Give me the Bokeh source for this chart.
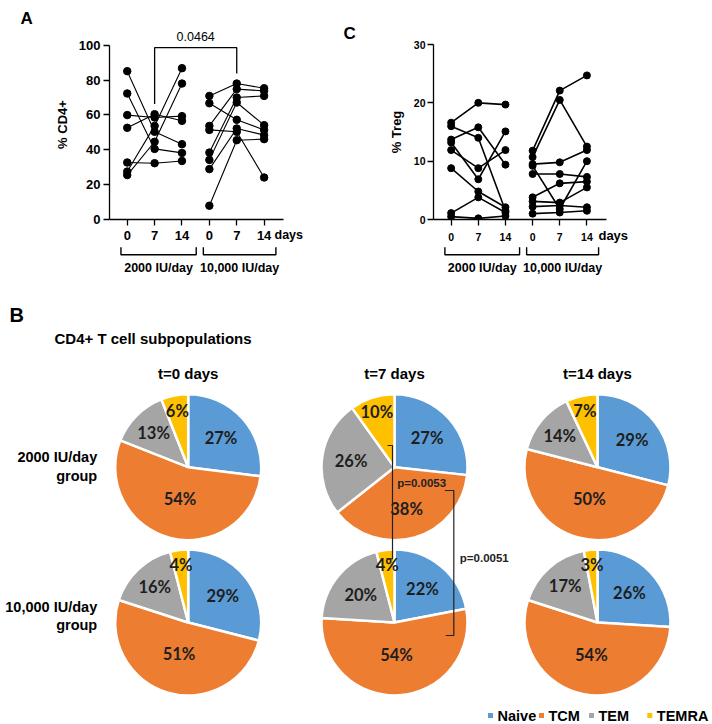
import numpy as np
from bokeh.plotting import figure
from bokeh.models import Range1d, FixedTicker, LinearAxis
from bokeh.layouts import column, row
from bokeh.embed import file_html
from bokeh.resources import INLINE
from bokeh.core.properties import value

SANS = "Liberation Sans"
PIE_FONT = "Lato"

# ---------------- data ----------------
day_ticks = ["0", "7", "14", "0", "7", "14"]
dose_groups = ["2000 IU/day", "10,000 IU/day"]

# Panel A: % CD4+ per subject at day 0 / 7 / 14
cd4_2000_day0 = [85.1, 72.3, 59.9, 52.6, 32.7, 27.5, 25.5]
cd4_2000_day7 = [50.3, 40.5, 58.5, 60.4, 32.3, 53.7, 44.6]
cd4_2000_day14 = [43.2, 38.2, 59.3, 56.6, 33.6, 86.8, 78.0]
cd4_10000_day0 = [70.9, 66.7, 53.7, 51.4, 38.4, 34.2, 28.9, 7.9]
cd4_10000_day7 = [78.0, 57.2, 74.8, 50.3, 70.0, 67.1, 52.2, 45.5]
cd4_10000_day14 = [75.3, 51.4, 73.8, 24.1, 70.9, 54.1, 48.4, 46.1]
cd4_p_value = "0.0464"

# Panel C: % Treg per subject at day 0 / 7 / 14
treg_2000_day0 = [16.6, 16.0, 13.7, 13.2, 11.9, 8.8, 1.1, 0.5]
treg_2000_day7 = [20.0, 14.0, 15.8, 6.9, 8.8, 4.8, 3.8, 0.2]
treg_2000_day14 = [19.7, 1.5, 9.4, 15.1, 11.9, 2.1, 1.2, 0.6]
treg_10000_day0 = [11.8, 10.7, 9.5, 9.2, 7.8, 3.8, 3.1, 2.2, 1.0]
treg_10000_day7 = [22.1, 20.5, 9.8, 1.8, 7.8, 6.2, 2.9, 2.4, 1.2]
treg_10000_day14 = [24.7, 12.5, 11.9, 10.0, 7.3, 6.5, 5.5, 2.1, 1.5]

# Panel B: CD4+ T cell subpopulations (%)
subsets = ["Naive", "TCM", "TEM", "TEMRA"]
subset_colors = ["#5B9BD5", "#ED7D31", "#A5A5A5", "#FFC000"]
timepoints = ["t=0 days", "t=7 days", "t=14 days"]
pie_2000_t0 = [27, 54, 13, 6]
pie_2000_t7 = [27, 38, 26, 10]
pie_2000_t14 = [29, 50, 14, 7]
pie_10000_t0 = [29, 51, 16, 4]
pie_10000_t7 = [22, 54, 20, 4]
pie_10000_t14 = [26, 54, 17, 3]
pie_group_labels = [("2000 IU/day", "group"), ("10,000 IU/day", "group")]
p_values_b = ["p=0.0053", "p=0.0051"]


# ---------------- helpers ----------------
def clean(p):
    p.xgrid.visible = False
    p.ygrid.visible = False
    p.outline_line_color = None
    p.background_fill_color = "white"
    p.border_fill_color = "white"


def style_axes(p, tick_size, label_size, x_standoff, y_standoff, ylabel_standoff):
    for ax in (p.xaxis[0], p.yaxis[0]):
        ax.axis_line_color = "black"
        ax.axis_line_width = 1.3
        ax.major_tick_line_color = "black"
        ax.major_tick_line_width = 1.3
        ax.major_tick_out = 6
        ax.major_tick_in = 0
        ax.minor_tick_out = 0
        ax.minor_tick_in = 0
        ax.major_label_text_font = SANS
        ax.major_label_text_font_style = "bold"
        ax.major_label_text_font_size = tick_size
        ax.major_label_text_color = "black"
        ax.axis_label_text_font = SANS
        ax.axis_label_text_font_style = "bold"
        ax.axis_label_text_font_size = label_size
        ax.axis_label_text_color = "black"
    p.xaxis[0].major_label_standoff = x_standoff
    p.yaxis[0].major_label_standoff = y_standoff
    p.yaxis[0].axis_label_standoff = ylabel_standoff


def style_letter(p, offset):
    p.title.align = "left"
    p.title.offset = offset
    p.title.standoff = 0
    p.title.vertical_align = "top"
    p.title.text_font = SANS
    p.title.text_font_size = "17px"
    p.title.text_font_style = "bold"
    p.title.text_color = "black"


def add_days_axis(p, tick, size, standoff):
    ax = LinearAxis(ticker=FixedTicker(ticks=[tick]), major_label_overrides={tick: "days"})
    ax.axis_line_color = None
    ax.major_tick_line_color = None
    ax.minor_tick_line_color = None
    ax.major_tick_out = 0
    ax.major_tick_in = 0
    ax.major_label_standoff = standoff
    ax.major_label_text_font = SANS
    ax.major_label_text_font_style = "bold"
    ax.major_label_text_font_size = size
    ax.major_label_text_color = "black"
    p.add_layout(ax, "below")


def draw_pairs(p, groups, lw, size):
    for gi, (d0, d7, d14) in enumerate(groups):
        base = 3 * gi
        xs = [[base, base + 1, base + 2] for _ in d0]
        ys = [[a, b, c] for a, b, c in zip(d0, d7, d14)]
        p.multi_line(xs, ys, line_color="black", line_width=lw)
        px = [base] * len(d0) + [base + 1] * len(d7) + [base + 2] * len(d14)
        py = list(d0) + list(d7) + list(d14)
        p.scatter(px, py, size=size, fill_color="black", line_color="black")


def bracket_fig(width, bl, br, x_range):
    b = figure(width=width, height=30, x_range=x_range, y_range=Range1d(0, 30),
               x_axis_location=None, y_axis_location=None, output_backend="svg",
               toolbar_location=None, min_border_left=bl, min_border_right=br,
               min_border_top=0, min_border_bottom=0)
    clean(b)
    spans = [(-0.23, 2.52), (2.78, 5.43)]
    for (a, c), lab in zip(spans, dose_groups):
        b.line([a, a, c, c], [29.3, 21.7, 21.7, 29.3], line_color="black", line_width=1.4)
        b.text(x=[(a + c) / 2], y=[9], text=[lab], text_font=value(SANS),
               text_font_style="bold", text_font_size="12.5px", text_align="center",
               text_baseline="middle", text_color="black")
    return b


# ---------------- Panel A ----------------
pa = figure(width=330, height=246, x_range=Range1d(-0.648, 6.0), y_range=Range1d(0, 109),
            output_backend="svg", toolbar_location=None, title="A",
            min_border_left=109, min_border_right=39, min_border_top=29, min_border_bottom=27)
clean(pa)
style_letter(pa, -89)
pa.yaxis.bounds = (0, 100)
pa.yaxis.ticker = FixedTicker(ticks=[0, 20, 40, 60, 80, 100])
pa.yaxis.axis_label = "% CD4+"
pa.xaxis.bounds = (-0.648, 5.72)
pa.xaxis.ticker = FixedTicker(ticks=[0, 1, 2, 3, 4, 5])
pa.xaxis.major_label_overrides = {i: s for i, s in enumerate(day_ticks)}
style_axes(pa, "13px", "13px", 5, 3, 6)
add_days_axis(pa, 5.9, "12.5px", -15)
draw_pairs(pa, [(cd4_2000_day0, cd4_2000_day7, cd4_2000_day14),
                (cd4_10000_day0, cd4_10000_day7, cd4_10000_day14)], 1.1, 7.5)
pa.line([1, 1, 4, 4], [66.3, 98.6, 98.6, 83.7], line_color="black", line_width=1.3)
pa.text(x=[2.5], y=[104.9], text=[cd4_p_value], text_font=value(SANS), text_font_size="12.5px",
        text_align="center", text_baseline="middle", text_color="black")
pab = bracket_fig(330, 109, 39, pa.x_range)

# ---------------- Panel C ----------------
pc = figure(width=382, height=246, x_range=Range1d(-0.65, 6.2), y_range=Range1d(0, 30),
            output_backend="svg", toolbar_location=None, title="C",
            min_border_left=103, min_border_right=93, min_border_top=44, min_border_bottom=27)
clean(pc)
style_letter(pc, -90)
pc.yaxis.ticker = FixedTicker(ticks=[0, 10, 20, 30])
pc.yaxis.axis_label = "% Treg"
pc.xaxis.bounds = (-0.65, 5.71)
pc.xaxis.ticker = FixedTicker(ticks=[0, 1, 2, 3, 4, 5])
pc.xaxis.major_label_overrides = {i: s for i, s in enumerate(day_ticks)}
style_axes(pc, "10.5px", "13px", 7, 2, 7)
add_days_axis(pc, 5.97, "13px", -16)
draw_pairs(pc, [(treg_2000_day0, treg_2000_day7, treg_2000_day14),
                (treg_10000_day0, treg_10000_day7, treg_10000_day14)], 1.6, 7)
pcb = bracket_fig(382, 103, 93, pc.x_range)

# ---------------- Panel B (pies) ----------------
pp = figure(width=712, height=448, x_range=Range1d(0, 712), y_range=Range1d(0, 448),
            x_axis_location=None, y_axis_location=None, output_backend="svg",
            toolbar_location=None, min_border=0)
clean(pp)

col_x = [187.7, 394.0, 597.0]
row_y = [257.3, 102.0]
R = 73.0
pie_rows = [[pie_2000_t0, pie_2000_t7, pie_2000_t14],
            [pie_10000_t0, pie_10000_t7, pie_10000_t14]]


def label_factor(f):
    if f >= 0.45:
        return 0.45
    if f >= 0.2:
        return 0.6
    if f >= 0.1:
        return 0.67
    return 0.79


for ri, vals_row in enumerate(pie_rows):
    for ci, vals in enumerate(vals_row):
        v = np.array(vals, dtype=float)
        frac = v / v.sum()
        cum = np.concatenate([[0.0], np.cumsum(frac)])
        start = np.pi / 2 - 2 * np.pi * cum[:-1]
        end = np.pi / 2 - 2 * np.pi * cum[1:]
        cx, cy = col_x[ci], row_y[ri]
        pp.wedge(x=[cx] * 4, y=[cy] * 4, radius=R, start_angle=list(start), end_angle=list(end),
                 direction="clock", fill_color=subset_colors, line_color="white", line_width=2.5)
        mid = np.pi / 2 - 2 * np.pi * (cum[:-1] + cum[1:]) / 2
        fac = np.array([label_factor(f) for f in frac])
        lx = cx + fac * R * np.cos(mid)
        ly = cy + fac * R * np.sin(mid)
        pp.text(x=list(lx), y=list(ly), text=[f"{int(x)}%" for x in vals],
                text_font=value(PIE_FONT), text_font_style="bold", text_font_size="16.5px",
                text_align="center", text_baseline="middle", text_color="#1e1e1e")

# titles and labels
pp.text(x=col_x, y=[350.7] * 3, text=timepoints, text_font=value(SANS), text_font_style="bold",
        text_font_size="15px", text_align="center", text_baseline="middle", text_color="black")
pp.text(x=[54], y=[385.7], text=["CD4+ T cell subpopulations"], text_font=value(SANS),
        text_font_style="bold", text_font_size="15px", text_align="left", text_baseline="middle",
        text_color="black")
pp.text(x=[9], y=[409.5], text=["B"], text_font=value(SANS), text_font_style="bold",
        text_font_size="20px", text_align="left", text_baseline="middle", text_color="black")
row_label_mid = [258.0, 108.5]
for ri, (l1, l2) in enumerate(pie_group_labels):
    pp.text(x=[96.7, 96.7], y=[row_label_mid[ri] + 9.3, row_label_mid[ri] - 9.3], text=[l1, l2],
            text_font=value(SANS), text_font_style="bold", text_font_size="14.5px",
            text_align="right", text_baseline="middle", text_color="black")

# p-value brackets
bx1 = col_x[1] - 2
pp.line([bx1 - 5, bx1, bx1, bx1 - 6], [279, 279, 165.7, 165.7], line_color="#222222", line_width=1.2)
pp.text(x=[bx1 + 4.7], y=[241.7], text=[p_values_b[0]], text_font=value(SANS),
        text_font_style="bold", text_font_size="11.5px", text_align="left",
        text_baseline="middle", text_color="#222222")
bx2 = col_x[1] + 59.3
pp.line([bx2 - 9, bx2, bx2, bx2 - 8], [234, 234, 89, 89], line_color="#222222", line_width=1.2)
pp.text(x=[bx2 + 6], y=[166.7], text=[p_values_b[1]], text_font=value(SANS),
        text_font_style="bold", text_font_size="11.5px", text_align="left",
        text_baseline="middle", text_color="#222222")

# legend
leg_sq_x = [490, 541, 591, 649.3]
leg_y = 9
pp.rect(x=leg_sq_x, y=[leg_y] * 4, width=5, height=5, fill_color=subset_colors, line_color=None)
pp.text(x=[x + 7.0 for x in leg_sq_x], y=[leg_y] * 4, text=subsets, text_font=value(SANS),
        text_font_style="bold", text_font_size="14.5px", text_align="left",
        text_baseline="middle", text_color="black")

layout = column(row(column(pa, pab), column(pc, pcb)), pp)
open("out.html", "w").write(file_html(layout, INLINE))
